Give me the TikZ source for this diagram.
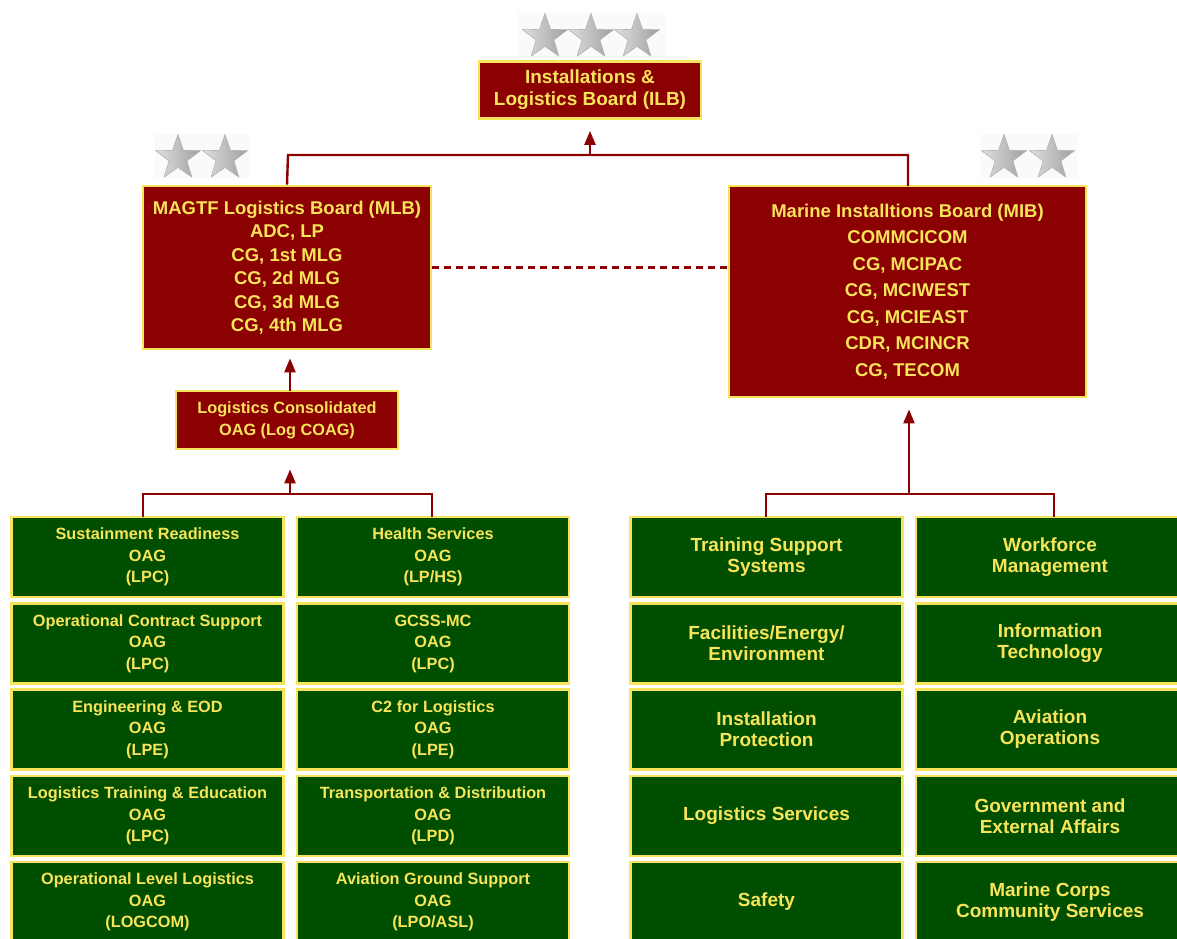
\documentclass[tikz,border=0pt]{standalone}
\usepackage{fontspec}
\setmainfont{Liberation Sans}
\usetikzlibrary{shapes.geometric,arrows.meta}
\definecolor{darkred}{HTML}{8B0000}
\definecolor{boxgreen}{HTML}{004F00}
\definecolor{gold}{HTML}{F8E45A}
\tikzset{
  redbox/.style={draw=gold, line width=2.8pt, fill=darkred, text=gold, align=center, inner sep=0pt, font=\bfseries\fontsize{18.5}{23.5}\selectfont},
  greenbox/.style={draw=gold, line width=2.8pt, fill=boxgreen, text=gold, align=center, inner sep=0pt, minimum height=80pt},
  lbox/.style={greenbox, minimum width=272pt, font=\bfseries\fontsize{16.3}{21.5}\selectfont},
  rbox/.style={greenbox, minimum width=272pt, font=\bfseries\fontsize{19}{21}\selectfont},
  conn/.style={draw=darkred, line width=2.4pt},
  arr/.style={conn, -{Triangle[length=14pt,width=11pt]}},
  silverstar/.style={star, star points=5, star point ratio=2.5, minimum size=47pt, inner sep=0pt, left color=gray!25, right color=gray!75, draw=gray!60, line width=0.6pt},
  starbg/.style={fill=gray!4, draw=none}
}
\begin{document}
\begin{tikzpicture}[x=1pt,y=-1pt]
\useasboundingbox (0,0) rectangle (1177,938);
\clip (0,0) rectangle (1177,938);
% stars
\fill[starbg] (518,12) rectangle (665,57);
\node[silverstar] (s1) at (545,37) {};
\node[silverstar] (s2) at (591,37) {};
\node[silverstar] (s3) at (637,37) {};
\fill[starbg] (155,134) rectangle (249,178);
\node[silverstar] (s4) at (178,158) {};
\node[silverstar] (s5) at (225,158) {};
\fill[starbg] (980,134) rectangle (1077,178);
\node[silverstar] (s6) at (1004,158) {};
\node[silverstar] (s7) at (1052,158) {};
% top boxes
\node[redbox, minimum width=222pt, minimum height=57pt, font=\bfseries\fontsize{19}{22}\selectfont] (ilb) at (590,90) {Installations \&\\Logistics Board (ILB)};
\node[redbox, minimum width=288pt, minimum height=163pt] (mlb) at (287,267.5) {MAGTF Logistics Board (MLB)\\ADC, LP\\CG, 1st MLG\\CG, 2d MLG\\CG, 3d MLG\\CG, 4th MLG};
\node[redbox, minimum width=357pt, minimum height=211pt, font=\bfseries\fontsize{18.5}{26.5}\selectfont] (mib) at (907.5,291.5) {Marine Installtions Board (MIB)\\COMMCICOM\\CG, MCIPAC\\CG, MCIWEST\\CG, MCIEAST\\CDR, MCINCR\\CG, TECOM};
\node[redbox, minimum width=222pt, minimum height=58pt, font=\bfseries\fontsize{16.3}{22}\selectfont] (coag) at (287,420) {Logistics Consolidated\\OAG (Log COAG)};
% connectors top
\coordinate (jt) at (590,155);
\draw[conn] (mlb.north) -- (288,155) -- (908,155) -- (908,186);
\draw[arr] (jt) -- ([yshift=-11pt]jt |- ilb.south);
\draw[conn, dash pattern=on 7pt off 5pt] (mlb.east) -- (mlb.east -| mib.west);
\coordinate (jc) at (290,391);
\draw[arr] (jc) -- ([yshift=-8pt]jc |- mlb.south);
% left green boxes
\node[lbox] (l1) at (147.5,557) {Sustainment Readiness\\OAG\\(LPC)};
\node[lbox] (l2) at (147.5,643.5) {Operational Contract Support\\OAG\\(LPC)};
\node[lbox] (l3) at (147.5,729.5) {Engineering \& EOD\\OAG\\(LPE)};
\node[lbox] (l4) at (147.5,816) {Logistics Training \& Education\\OAG\\(LPC)};
\node[lbox] (l5) at (147.5,902) {Operational Level Logistics\\OAG\\(LOGCOM)};
\node[lbox] (r1) at (433,557) {Health Services\\OAG\\(LP/HS)};
\node[lbox] (r2) at (433,643.5) {GCSS-MC\\OAG\\(LPC)};
\node[lbox] (r3) at (433,729.5) {C2 for Logistics\\OAG\\(LPE)};
\node[lbox] (r4) at (433,816) {Transportation \& Distribution\\OAG\\(LPD)};
\node[lbox] (r5) at (433,902) {Aviation Ground Support\\OAG\\(LPO/ASL)};
\coordinate (jl) at (290,494);
\draw[conn] (143,517) -- (143,494) -- (432,494) -- (432,517);
\draw[arr] (jl) -- ([yshift=-19pt]jl |- coag.south);
% right green boxes
\node[rbox] (a1) at (766.5,557) {Training Support\\Systems};
\node[rbox] (a2) at (766.5,643.5) {Facilities/Energy/\\Environment};
\node[rbox] (a3) at (766.5,729.5) {Installation\\Protection};
\node[rbox] (a4) at (766.5,816) {Logistics Services};
\node[rbox] (a5) at (766.5,902) {Safety};
\node[rbox, minimum width=268pt] (b1) at (1050,557) {Workforce\\Management};
\node[rbox, minimum width=268pt] (b2) at (1050,643.5) {Information\\Technology};
\node[rbox, minimum width=268pt] (b3) at (1050,729.5) {Aviation\\Operations};
\node[rbox, minimum width=268pt] (b4) at (1050,816) {Government and\\External Affairs};
\node[rbox, minimum width=268pt] (b5) at (1050,902) {Marine Corps\\Community Services};
\coordinate (jr) at (909,494);
\draw[conn] (766,517) -- (766,494) -- (1054,494) -- (1054,517);
\draw[arr] (jr) -- ([yshift=-11pt]jr |- mib.south);
\end{tikzpicture}
\end{document}
